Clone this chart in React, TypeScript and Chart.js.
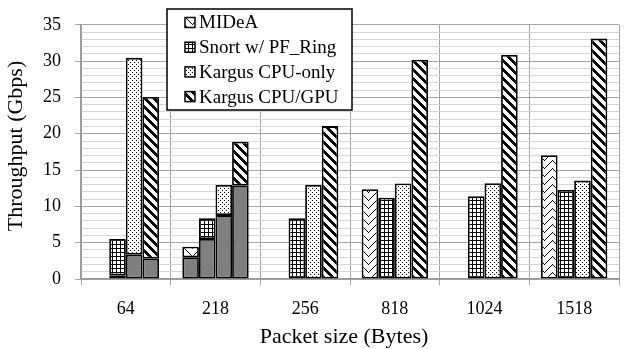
import React, { useEffect, useRef } from "react";
import { Chart, registerables } from "chart.js";

Chart.register(...registerables);

const categories = ["64", "218", "256", "818", "1024", "1518"];
const seriesNames = ["MIDeA", "Snort w/ PF_Ring", "Kargus CPU-only", "Kargus CPU/GPU"];
// total heights of each bar
const mideaTotal = [null, 4.45, null, 12.35, null, 17.05];
const snortTotal = [5.5, 8.35, 8.35, 11.2, 11.4, 12.25];
const cpuOnlyTotal = [30.45, 12.95, 12.95, 13.15, 13.2, 13.55];
const cpuGpuTotal = [25.05, 18.9, 21.05, 30.2, 30.85, 33.1];
// gray (solid) lower portion of bars
const mideaBase = [null, 3.0, null, null, null, null];
const snortBase = [0.5, 5.5, null, null, null, null];
const cpuOnlyBase = [3.35, 8.8, null, null, null, null];
const cpuGpuBase = [2.8, 12.85, null, null, null, null];
const yTicks = [0, 5, 10, 15, 20, 25, 30, 35];

const FONT = "'Liberation Serif', 'Times New Roman', serif";

function makeTile(w: number, h: number, fn: (x: number, y: number) => boolean) {
  const c = document.createElement("canvas");
  c.width = w;
  c.height = h;
  const cx = c.getContext("2d")!;
  const img = cx.createImageData(w, h);
  for (let y = 0; y < h; y++) {
    for (let x = 0; x < w; x++) {
      const i = (y * w + x) * 4;
      const v = fn(x, y) ? 0 : 255;
      img.data[i] = v;
      img.data[i + 1] = v;
      img.data[i + 2] = v;
      img.data[i + 3] = 255;
    }
  }
  cx.putImageData(img, 0, 0);
  return c;
}

export default function App() {
  const ref = useRef<HTMLCanvasElement | null>(null);
  useEffect(() => {
    const canvas = ref.current!;
    const ctx = canvas.getContext("2d")!;
    const tiles = [
      makeTile(16, 8, (x, y) => (x < 8 ? (x + y) % 8 === 0 : ((x - y) % 8 + 8) % 8 === 0)),
      makeTile(4, 4, (x, y) => x === 0 || y === 0),
      makeTile(4, 4, (x, y) => (x === 0 && y === 0) || (x === 2 && y === 2)),
      makeTile(9, 9, (x, y) => (((x - y) % 9) + 9) % 9 < 4),
    ];
    const patterns = tiles.map((t) => ctx.createPattern(t, "repeat")!);
    const totals = [mideaTotal, snortTotal, cpuOnlyTotal, cpuGpuTotal];
    const bases = [mideaBase, snortBase, cpuOnlyBase, cpuGpuBase];

    const datasets: any[] = [];
    totals.forEach((tot, i) => {
      const base = bases[i];
      datasets.push({
        label: seriesNames[i] + " base",
        data: base,
        backgroundColor: "#7f7f7f",
        borderColor: "#000",
        borderWidth: 1.8,
        borderSkipped: false,
        stack: "s" + i,
      });
      datasets.push({
        label: seriesNames[i],
        data: tot.map((v, k) => (v == null ? null : v - (base[k] ?? 0))),
        backgroundColor: patterns[i],
        borderColor: "#000",
        borderWidth: 1.8,
        borderSkipped: false,
        stack: "s" + i,
      });
    });

    const overlay = {
      id: "overlay",
      afterDraw(chart: any) {
        const c = chart.ctx;
        c.save();
        const bx = 167, by = 9, bw = 185, bh = 101;
        c.fillStyle = "#fff";
        c.fillRect(bx, by, bw, bh);
        c.strokeStyle = "#000";
        c.lineWidth = 1.5;
        c.strokeRect(bx, by, bw, bh);
        c.font = `19px ${FONT}`;
        c.textBaseline = "middle";
        c.textAlign = "left";
        seriesNames.forEach((n, i) => {
          const cy = 22.5 + i * 24.7;
          c.fillStyle = patterns[i];
          c.fillRect(185, cy - 5, 10, 10);
          c.strokeStyle = "#000";
          c.lineWidth = 1.5;
          c.strokeRect(185, cy - 5, 10, 10);
          c.fillStyle = "#000";
          c.fillText(n, 199, cy + 1);
        });
        c.font = `22px ${FONT}`;
        c.textAlign = "center";
        c.fillText("Packet size (Bytes)", 344, 337);
        c.translate(16, 146);
        c.rotate(-Math.PI / 2);
        c.fillText("Throughput (Gbps)", 0, 0);
        c.restore();
      },
    };

    const chart = new Chart(ctx, {
      type: "bar",
      data: { labels: categories, datasets },
      options: {
        animation: false,
        responsive: false,
        maintainAspectRatio: false,
        layout: { padding: { top: 11, right: 7, left: 0, bottom: 0 } },
        plugins: { legend: { display: false }, tooltip: { enabled: false } },
        datasets: { bar: { categoryPercentage: 0.74, barPercentage: 1 } },
        scales: {
          x: {
            stacked: true,
            grid: { offset: true, color: "#a6a6a6", lineWidth: 1, tickLength: 6, tickColor: "#a6a6a6" },
            border: { color: "#999", width: 1.5 },
            ticks: { color: "#000", font: { family: FONT, size: 18 }, padding: 13 },
            afterFit: (s: any) => { s.height = 70; },
          },
          y: {
            stacked: true,
            min: 0,
            max: 35,
            grid: {
              color: (c: any) => (c.tick && c.tick.value % 5 === 0 ? "#a6a6a6" : "#d6d6d6"),
              tickColor: (c: any) => (c.tick && c.tick.value % 5 === 0 ? "#a6a6a6" : "rgba(0,0,0,0)"),
              tickLength: 6,
              lineWidth: 1,
            },
            border: { color: "#999", width: 1.5 },
            ticks: {
              stepSize: 1,
              autoSkip: false,
              color: "#000",
              font: { family: FONT, size: 18 },
              padding: 14,
              callback: (v: any) => (yTicks.includes(Number(v)) ? String(v) : ""),
            },
            afterFit: (s: any) => { s.width = 81; },
          },
        },
      },
      plugins: [overlay],
    });
    return () => chart.destroy();
  }, []);
  return (
    <div style={{ position: "absolute", left: 0, top: 0, width: 626, height: 349, background: "#fff" }}>
      <canvas ref={ref} width={626} height={349} style={{ width: 626, height: 349, display: "block" }} />
    </div>
  );
}
